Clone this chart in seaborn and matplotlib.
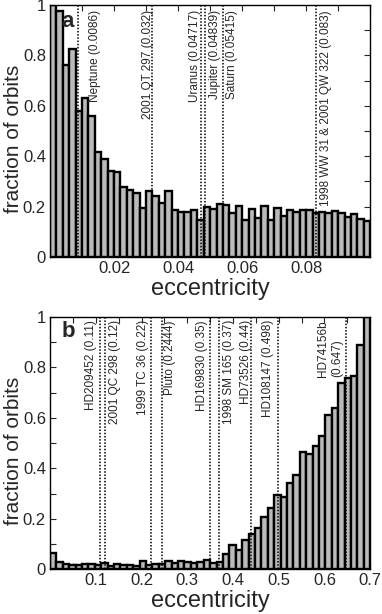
import numpy as np
import pandas as pd
import seaborn as sns
import matplotlib.pyplot as plt
from matplotlib.ticker import MultipleLocator, FixedLocator

# panel a: fraction of orbits per eccentricity bin (0 - 0.1, 50 bins)
a_frac = [1.0, 0.976, 0.76, 0.825, 0.58, 0.63, 0.56, 0.418, 0.389, 0.341,
          0.337, 0.279, 0.266, 0.253, 0.193, 0.262, 0.242, 0.216, 0.262, 0.185,
          0.18, 0.18, 0.185, 0.146, 0.2, 0.189, 0.21, 0.208, 0.173, 0.204,
          0.147, 0.189, 0.156, 0.204, 0.147, 0.193, 0.163, 0.188, 0.178, 0.185,
          0.188, 0.173, 0.18, 0.173, 0.181, 0.173, 0.16, 0.17, 0.15, 0.144]
a_lines = [0.0086, 0.032, 0.04717, 0.04839, 0.05415, 0.083]
a_names = ['Neptune (0.0086)', '2001 QT 297 (0.032)', 'Uranus (0.04717)',
           'Jupiter (0.04839)', 'Saturn (0.05415)',
           '1998 WW 31 & 2001 QW 322 (0.083)']
a_label_x = [0.0141, 0.0305, 0.0452, 0.0516, 0.0568, 0.0862]

# panel b: fraction of orbits per eccentricity bin (0 - 0.7, 50 bins)
b_frac = [0.063, 0.028, 0.02, 0.018, 0.017, 0.02, 0.02, 0.018, 0.025, 0.015,
          0.02, 0.018, 0.018, 0.013, 0.034, 0.018, 0.02, 0.02, 0.034, 0.024,
          0.032, 0.028, 0.026, 0.028, 0.037, 0.025, 0.03, 0.06, 0.096, 0.078,
          0.118, 0.14, 0.162, 0.209, 0.244, 0.295, 0.285, 0.343, 0.374, 0.466,
          0.458, 0.49, 0.53, 0.611, 0.638, 0.737, 0.757, 0.766, 0.889, 1.0]
b_lines = [0.11, 0.12, 0.22, 0.2444, 0.35, 0.37, 0.44, 0.498, 0.647]
b_names = ['HD209452 (0.11)', '2001 QC 298 (0.12)', '1999 TC 36 (0.22)',
           'Pluto (0.2444)', 'HD169830 (0.35)', '1998 SM 165 (0.37)',
           'HD73526 (0.44)', 'HD108147 (0.498)', 'HD74156b\n(0.647)']
b_label_x = [0.0895, 0.1420, 0.2022, 0.2614, 0.3327, 0.3920, 0.4280, 0.4775, 0.6125]

sns.set_style("ticks")
plt.rcParams['font.family'] = ['Liberation Sans', 'DejaVu Sans']

fig = plt.figure(figsize=(3.82, 6.14), dpi=100)
ax_a = fig.add_axes([0.131, 0.5814, 0.838, 0.4105])
ax_b = fig.add_axes([0.131, 0.0728, 0.838, 0.4109])


def draw_panel(ax, frac, xmax, lines, names, label_x, label_top, letter, letter_top):
    edges = np.linspace(0, xmax, len(frac) + 1)
    df = pd.DataFrame({'ecc': (edges[:-1] + edges[1:]) / 2, 'frac': frac})
    sns.histplot(data=df, x='ecc', weights='frac', bins=list(edges), ax=ax,
                 color='#bababa', edgecolor='black', linewidth=1.7, alpha=1,
                 shrink=1)
    for v in lines:
        ax.axvline(v, color='black', linestyle=(0, (1, 1.1)), linewidth=1.1)
    for name, lx in zip(names, label_x):
        ax.text(lx, label_top, name, rotation=90, ha='center', va='top',
                multialignment='left', fontsize=8.5,
                transform=ax.get_xaxis_transform())
    ax.text(0.035, letter_top, letter, transform=ax.transAxes, fontsize=16,
            fontweight='bold', va='top', ha='left')
    ax.set_xlim(0, xmax)
    ax.set_ylim(0, 1)
    ax.yaxis.set_major_locator(FixedLocator([0, 0.2, 0.4, 0.6, 0.8, 1]))
    ax.set_yticklabels(['0', '0.2', '0.4', '0.6', '0.8', '1'])
    ax.yaxis.set_minor_locator(MultipleLocator(0.1))
    ax.tick_params(which='both', direction='in', top=True, right=True,
                   labelsize=12, width=0.8, pad=3, length=4)
    ax.set_xlabel('eccentricity', fontsize=17, labelpad=1)
    ax.set_ylabel('fraction of orbits', fontsize=15)
    ax.yaxis.set_label_coords(-0.083, 0.47)
    for s in ax.spines.values():
        s.set_linewidth(1.0)
        s.set_color('black')


draw_panel(ax_a, a_frac, 0.1, a_lines, a_names, a_label_x, 0.98, 'a', 0.975)
ax_a.xaxis.set_major_locator(FixedLocator([0.02, 0.04, 0.06, 0.08]))
ax_a.set_xticklabels(['0.02', '0.04', '0.06', '0.08'])
ax_a.xaxis.set_minor_locator(MultipleLocator(0.01))

draw_panel(ax_b, b_frac, 0.7, b_lines, b_names, b_label_x, 0.988, 'b', 0.985)
ax_b.xaxis.set_major_locator(FixedLocator([0.1, 0.2, 0.3, 0.4, 0.5, 0.6, 0.7]))
ax_b.set_xticklabels(['0.1', '0.2', '0.3', '0.4', '0.5', '0.6', '0.7'])
ax_b.xaxis.set_minor_locator(MultipleLocator(0.05))

fig.savefig('out.png', dpi=100)
